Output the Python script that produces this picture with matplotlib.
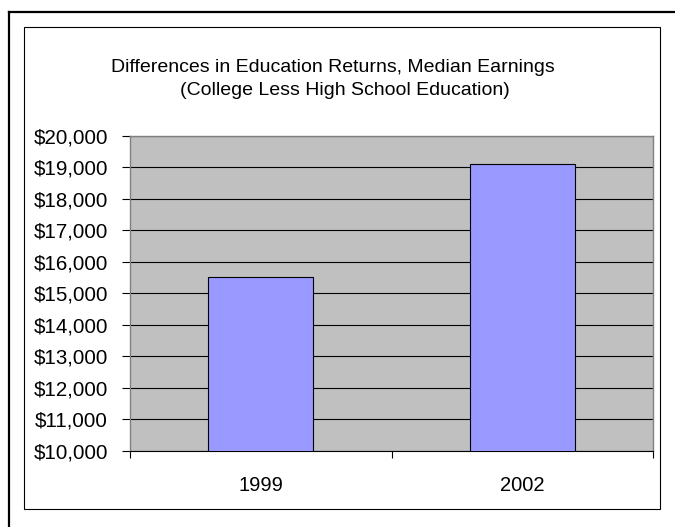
import matplotlib
matplotlib.use("Agg")
import matplotlib.pyplot as plt
from matplotlib.lines import Line2D
from matplotlib.patches import Rectangle
from matplotlib.ticker import FuncFormatter, MultipleLocator

years = ["1999", "2002"]
earnings_gap = [15530, 19100]
title_line1 = "Differences in Education Returns, Median Earnings"
title_line2 = "(College Less High School Education)"

plt.rcParams['font.family'] = ['Liberation Sans', 'DejaVu Sans']

W, H = 675, 527
fig = plt.figure(figsize=(W / 100, H / 100), dpi=100)
fig.patch.set_facecolor('white')

def fx(px):
    return px / W

def fy(py):
    return 1 - py / H

# outer heavy frame (left + top only, cropped by image edge)
fig.add_artist(Line2D([fx(9), fx(9)], [fy(12), 0], transform=fig.transFigure,
                      color='black', lw=1.6))
fig.add_artist(Line2D([fx(9), 1], [fy(12), fy(12)], transform=fig.transFigure,
                      color='black', lw=1.6))
# chart area border
fig.add_artist(Rectangle((fx(24), fy(509)), fx(660) - fx(24), fy(27) - fy(509),
                         transform=fig.transFigure, fill=False, ec='black', lw=0.8))

fig.text(fx(332.5), fy(72), title_line1, ha='center', va='baseline', fontsize=14)
fig.text(fx(345), fy(95), title_line2, ha='center', va='baseline', fontsize=14)

ax = fig.add_axes([fx(130), fy(451), fx(653) - fx(130), fy(135.7) - fy(451)])
ax.set_facecolor('#C0C0C0')

x = list(range(len(years)))
ax.bar(x, earnings_gap, width=0.4, color='#9999FF', edgecolor='black',
       linewidth=0.8, zorder=3, bottom=0)

ax.set_ylim(10000, 20000)
ax.set_xlim(-0.5, len(years) - 0.5)
ax.yaxis.set_major_locator(MultipleLocator(1000))
ax.yaxis.set_major_formatter(FuncFormatter(lambda v, p: f"${v:,.0f}"))
ax.grid(axis='y', color='black', lw=0.8, zorder=1)
ax.set_axisbelow(True)

ax.set_xticks(x)
ax.set_xticklabels(years)
ax.set_xticks([-0.5, 0.5, 1.5], minor=True)
ax.tick_params(axis='x', which='major', length=0, pad=18, labelsize=14.5)
ax.tick_params(axis='x', which='minor', length=5, width=0.8, direction='out')
ax.tick_params(axis='y', length=6, width=0.8, pad=10, labelsize=14.8)

for side in ['left', 'top', 'right']:
    ax.spines[side].set_color('#808080')
    ax.spines[side].set_linewidth(1.0)
ax.spines['bottom'].set_color('black')
ax.spines['bottom'].set_linewidth(0.8)

fig.savefig("out.png", dpi=100)
